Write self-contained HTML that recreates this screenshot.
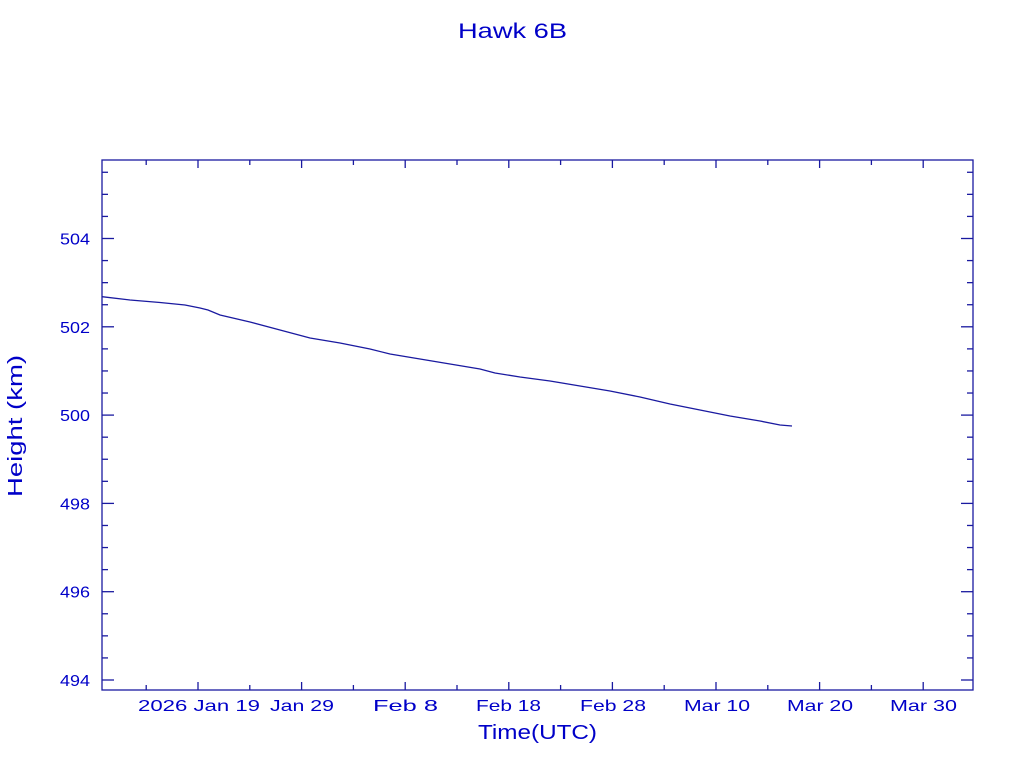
<!DOCTYPE html>
<html><head><meta charset="utf-8"><style>
html,body{margin:0;padding:0;background:#fff;width:1024px;height:768px;overflow:hidden}
text{font-family:"Liberation Sans","DejaVu Sans",sans-serif;fill:#0000c8}
</style></head><body>
<svg width="1024" height="768" xmlns="http://www.w3.org/2000/svg">
<text x="458" y="38" font-size="21" textLength="109" lengthAdjust="spacingAndGlyphs" font-family="Liberation Serif">Hawk 6B</text>
<rect x="102" y="160" width="871" height="530" fill="none" stroke="#1a1aa0" stroke-width="1.3"/>
<g stroke="#1a1aa0" stroke-width="1.3" id="t"></g>
<g font-size="16" id="yl"></g>
<g font-size="16" id="xl"></g>
<text x="478" y="739" font-size="20" textLength="119" lengthAdjust="spacingAndGlyphs" font-family="Liberation Serif">Time(UTC)</text>
<text transform="translate(22,497) rotate(-90)" font-size="20" textLength="142" lengthAdjust="spacingAndGlyphs" font-family="Liberation Serif">Height (km)</text>
<polyline fill="none" stroke="#1a1aa0" stroke-width="1.3" points="102,296.7 130,300 160,302.5 185,305 200,308 208,310 220,315 250,322 280,330 310,338 340,343 370,349 390,354 420,359 450,364 480,369 495,373 520,377 550,381 580,386 610,391 640,397 670,404 700,410 730,416 760,421 780,425 792,426"/>
</svg>
<script>
const ns="http://www.w3.org/2000/svg",t=document.getElementById('t'),yl=document.getElementById('yl'),xl=document.getElementById('xl');
function L(x1,y1,x2,y2){const l=document.createElementNS(ns,'line');l.setAttribute('x1',x1);l.setAttribute('y1',y1);l.setAttribute('x2',x2);l.setAttribute('y2',y2);t.appendChild(l);}
function T(g,x,y,s,w){const e=document.createElementNS(ns,'text');e.setAttribute('x',x);e.setAttribute('y',y);e.setAttribute('textLength',w);e.setAttribute('lengthAdjust','spacingAndGlyphs');e.setAttribute('xml:space','preserve');e.textContent=s;g.appendChild(e);}
for(let v=494;v<=505.5;v+=0.5){const y=680-(v-494)*44.15;const maj=Math.abs(v%2)<1e-6;const len=maj?12:6;L(102,y,102+len,y);L(973,y,973-len,y);if(maj)T(yl,60,y+6,String(v),30);}
for(let d=-5;d<=80;d+=5){const x=198+d*10.36;if(x<=102||x>=973)continue;const maj=d%10==0;const len=maj?8:5;L(x,690,x,690-len);L(x,160,x,160+len);}
const labs=[["2026 Jan 19",138,122],["Jan 29",270,64],["Feb  8",373,65],["Feb 18",476,65],["Feb 28",580,66],["Mar 10",684,66],["Mar 20",787,66],["Mar 30",890,67]];
labs.forEach(a=>T(xl,a[1],711,a[0],a[2]));
</script>
</body></html>
